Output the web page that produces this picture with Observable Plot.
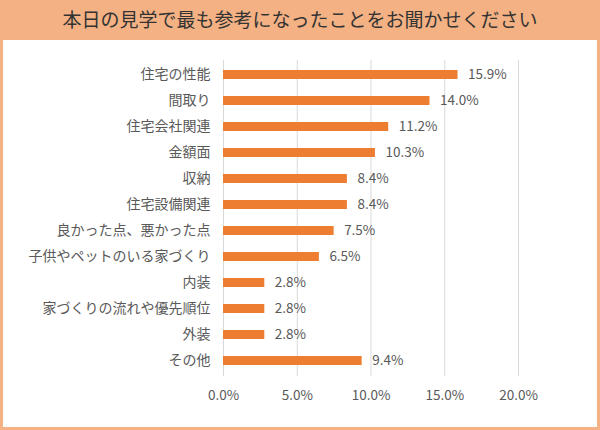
<!DOCTYPE html>
<html>
<head>
<meta charset="utf-8">
<script src="https://cdn.jsdelivr.net/npm/d3@7"></script>
<script src="https://cdn.jsdelivr.net/npm/@observablehq/plot@0.6"></script>
<style>
  html, body { margin: 0; padding: 0; background: #fff; }
  #frame {
    width: 600px; height: 430px; box-sizing: border-box;
    border: 3px solid #F4B183; border-top: none; background: #fff;
    font-family: "Noto Sans CJK JP", sans-serif; overflow: hidden;
  }
  #title {
    height: 40px; margin: 0 -3px; background: #F4B183; color: #333;
    font-size: 19px; line-height: 38px; text-align: center;
  }
  #chart svg { display: block; }
</style>
</head>
<body>
<div id="frame">
  <div id="title">本日の見学で最も参考になったことをお聞かせください</div>
  <div id="chart"></div>
</div>
<script>
const categories = ["住宅の性能", "間取り", "住宅会社関連", "金額面", "収納", "住宅設備関連", "良かった点、悪かった点", "子供やペットのいる家づくり", "内装", "家づくりの流れや優先順位", "外装", "その他"];
const values = [15.9, 14.0, 11.2, 10.3, 8.4, 8.4, 7.5, 6.5, 2.8, 2.8, 2.8, 9.4];
const xTicks = [0, 5, 10, 15, 20];

const data = categories.map((c, i) => ({category: c, value: values[i]}));
const fmt = d => d.toFixed(1) + "%";

const chart = Plot.plot({
  width: 594,
  height: 387,
  marginTop: 20,
  marginBottom: 51,
  marginLeft: 220,
  marginRight: 79,
  style: {fontFamily: "'Noto Sans CJK JP', sans-serif", fontSize: "13px", color: "#595959", background: "#fff"},
  x: {domain: [0, 20], ticks: xTicks, tickFormat: fmt},
  y: {domain: categories, paddingInner: 0.64, paddingOuter: 0.32},
  marks: [
    Plot.ruleX(xTicks, {stroke: "#d9d9d9", strokeWidth: 1}),
    Plot.barX(data, {x: "value", y: "category", fill: "#ED7D31"}),
    Plot.text(data, {x: "value", y: "category", text: d => fmt(d.value), dx: 10, textAnchor: "start", fill: "#595959", fontSize: 13.5}),
    Plot.axisX({ticks: xTicks, tickFormat: fmt, tickSize: 0, tickPadding: 14, fontSize: 13.5, fill: "#595959", label: null}),
    Plot.axisY({tickSize: 0, tickPadding: 13, fontSize: 14, fill: "#595959", label: null})
  ]
});
document.getElementById("chart").append(chart);
</script>
</body>
</html>
